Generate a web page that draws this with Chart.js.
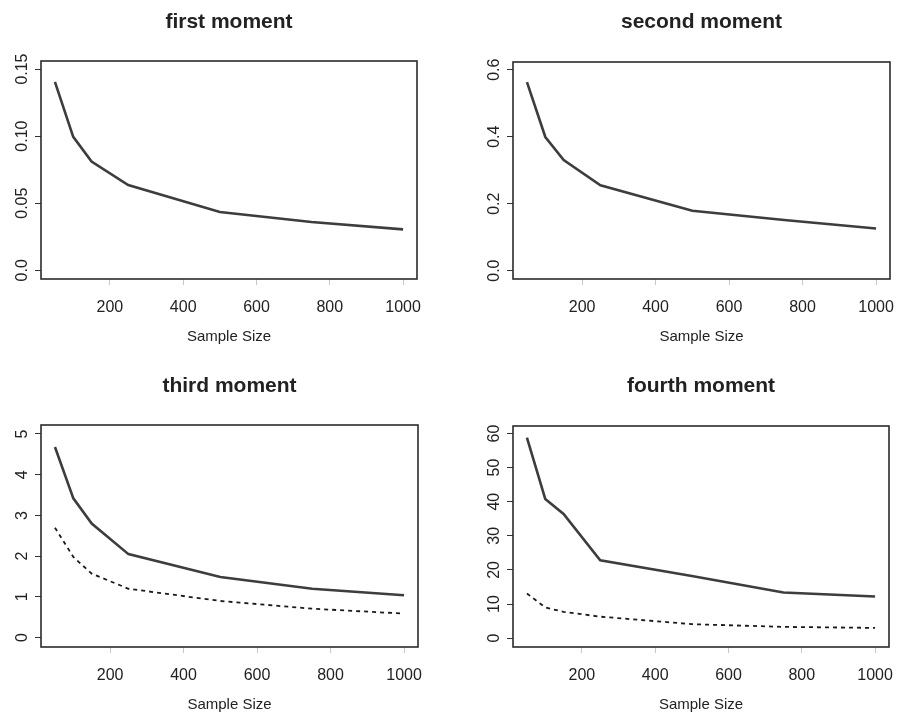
<!DOCTYPE html>
<html>
<head>
<meta charset="utf-8">
<script src="https://cdn.jsdelivr.net/npm/chart.js@4.4.1/dist/chart.umd.min.js"></script>
<style>
  body { margin: 0; background: #fff; }
  #wrap { position: relative; width: 897px; height: 716px; }
  canvas { position: absolute; }
</style>
</head>
<body>
<div id="wrap">
  <canvas id="c1" width="448" height="358" style="left:0;top:0"></canvas>
  <canvas id="c2" width="449" height="358" style="left:448px;top:0"></canvas>
  <canvas id="c3" width="448" height="358" style="left:0;top:358px"></canvas>
  <canvas id="c4" width="449" height="358" style="left:448px;top:358px"></canvas>
</div>
<script>
// sample sizes on the x axis
const sampleSizes = [50, 100, 150, 250, 500, 750, 1000];
const xTicks = [200, 400, 600, 800, 1000];

// values
const firstMoment = [0.1405, 0.0995, 0.081, 0.0635, 0.0435, 0.036, 0.0305];
const secondMoment = [0.563, 0.399, 0.330, 0.255, 0.179, 0.151, 0.126];
const thirdSolid = [4.68, 3.42, 2.80, 2.05, 1.49, 1.20, 1.04];
const thirdDashed = [2.70, 1.98, 1.57, 1.20, 0.90, 0.71, 0.59];
const fourthSolid = [58.8, 40.8, 36.4, 22.8, 18.2, 13.4, 12.2];
const fourthDashed = [13.1, 9.0, 7.7, 6.3, 4.1, 3.3, 3.0];

const yTicks1 = [0, 0.05, 0.10, 0.15];
const yLabels1 = ['0.0', '0.05', '0.10', '0.15'];
const yTicks2 = [0, 0.2, 0.4, 0.6];
const yLabels2 = ['0.0', '0.2', '0.4', '0.6'];
const yTicks3 = [0, 1, 2, 3, 4, 5];
const yLabels3 = ['0', '1', '2', '3', '4', '5'];
const yTicks4 = [0, 10, 20, 30, 40, 50, 60];
const yLabels4 = ['0', '10', '20', '30', '40', '50', '60'];

const FONT = "'Liberation Sans', Arial, sans-serif";
const INK = '#222';

// box around the plot + rotated y labels, R style
const rPlot = {
    id: 'rPlot',
    afterDraw(chart) {
        const ctx = chart.ctx;
        const a = chart.chartArea;
        const y = chart.scales.y;
        ctx.save();
        ctx.strokeStyle = '#2b2b2b';
        ctx.lineWidth = 1.6;
        ctx.strokeRect(a.left, a.top, a.right - a.left, a.bottom - a.top);
        ctx.fillStyle = INK;
        ctx.font = '16px ' + FONT;
        ctx.textAlign = 'center';
        ctx.textBaseline = 'middle';
        y.ticks.forEach(t => {
            ctx.save();
            ctx.translate(a.left - 18, y.getPixelForValue(t.value));
            ctx.rotate(-Math.PI / 2);
            ctx.fillText(t.label, 0, 0);
            ctx.restore();
        });
        ctx.restore();
    }
};

function makePanel(id, p) {
    const canvas = document.getElementById(id);
    const W = canvas.width, H = canvas.height;
    const datasets = [{
        data: p.solid.map((v, i) => ({ x: sampleSizes[i], y: v })),
        borderColor: '#3d3d3d',
        borderWidth: 2.6
    }];
    if (p.dashed) {
        datasets.push({
            data: p.dashed.map((v, i) => ({ x: sampleSizes[i], y: v })),
            borderColor: '#1a1a1a',
            borderWidth: 1.8,
            borderDash: [4, 4]
        });
    }
    return new Chart(canvas.getContext('2d'), {
        type: 'line',
        data: { datasets: datasets },
        plugins: [rPlot],
        options: {
            responsive: false,
            animation: false,
            layout: { padding: { left: 0, right: W - p.box.right, top: 0, bottom: 0 } },
            elements: { point: { radius: 0 }, line: { tension: 0 } },
            plugins: {
                legend: { display: false },
                tooltip: { enabled: false },
                title: {
                    display: true,
                    text: p.title,
                    fullSize: false,
                    color: INK,
                    font: { family: FONT, size: 21, weight: 'bold' },
                    padding: { top: p.titleTop, bottom: p.box.top - p.titleTop - 25.2 }
                }
            },
            scales: {
                x: {
                    type: 'linear',
                    min: 12,
                    max: 1038,
                    afterBuildTicks: s => { s.ticks = xTicks.map(v => ({ value: v })); },
                    afterFit: s => {
                        s.height = H - p.box.bottom;
                        s.paddingLeft = 0;
                        s.paddingRight = 0;
                    },
                    grid: { drawOnChartArea: false, tickLength: 6, color: '#c8c8c8' },
                    border: { display: false },
                    ticks: {
                        color: INK, font: { family: FONT, size: 16 }, padding: 13, maxRotation: 0,
                        callback: v => String(v)
                    },
                    title: {
                        display: true,
                        text: 'Sample Size',
                        color: INK,
                        font: { family: FONT, size: 15 },
                        padding: { top: 0, bottom: H - p.box.bottom - 57.5 - 9 }
                    }
                },
                y: {
                    type: 'linear',
                    min: p.yMin,
                    max: p.yMax,
                    afterBuildTicks: s => { s.ticks = p.yTicks.map(v => ({ value: v })); },
                    afterFit: s => { s.width = p.box.left; },
                    grid: { drawOnChartArea: false, tickLength: 6, color: '#333' },
                    border: { display: false },
                    ticks: { display: false, callback: (v, i) => p.yLabels[i] }
                }
            }
        }
    });
}

makePanel('c1', {
    title: 'first moment', solid: firstMoment,
    yMin: -0.0065, yMax: 0.156, yTicks: yTicks1, yLabels: yLabels1,
    box: { left: 41, right: 417, top: 61, bottom: 279 }, titleTop: 10
});
makePanel('c2', {
    title: 'second moment', solid: secondMoment,
    yMin: -0.025, yMax: 0.623, yTicks: yTicks2, yLabels: yLabels2,
    box: { left: 65, right: 442, top: 62, bottom: 279 }, titleTop: 10
});
makePanel('c3', {
    title: 'third moment', solid: thirdSolid, dashed: thirdDashed,
    yMin: -0.23, yMax: 5.22, yTicks: yTicks3, yLabels: yLabels3,
    box: { left: 41, right: 418, top: 67, bottom: 289 }, titleTop: 15.4
});
makePanel('c4', {
    title: 'fourth moment', solid: fourthSolid, dashed: fourthDashed,
    yMin: -2.6, yMax: 62.2, yTicks: yTicks4, yLabels: yLabels4,
    box: { left: 65, right: 441, top: 68, bottom: 289 }, titleTop: 15.4
});
</script>
</body>
</html>
